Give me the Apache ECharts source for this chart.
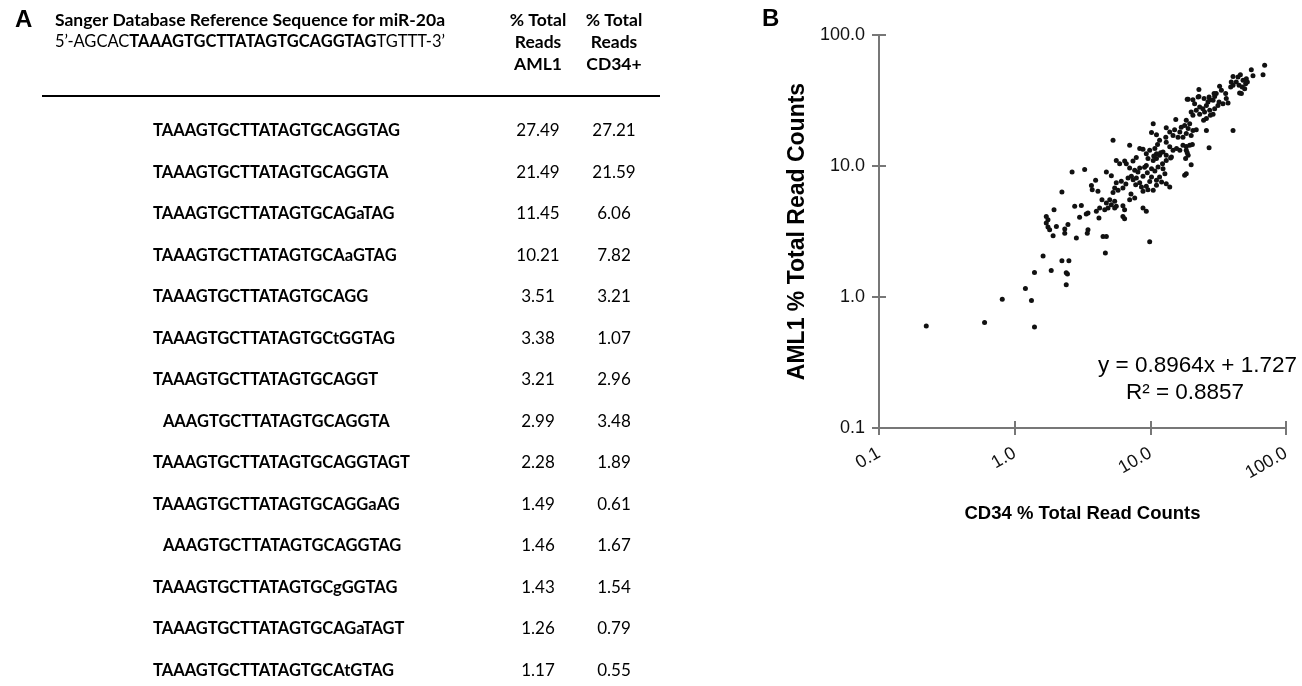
<!DOCTYPE html>
<html>
<head>
<meta charset="utf-8">
<title>miR-20a isomiRs</title>
<script src="https://cdn.jsdelivr.net/npm/echarts@6/dist/echarts.min.js"></script>
<style>
html, body { margin: 0; padding: 0; background: #fff; }
#main { width: 1302px; height: 686px; }
</style>
</head>
<body>
<div id="main"></div>
<script>
// panel A table
var sequences = [
    'TAAAGTGCTTATAGTGCAGGTAG',
    'TAAAGTGCTTATAGTGCAGGTA',
    'TAAAGTGCTTATAGTGCAGaTAG',
    'TAAAGTGCTTATAGTGCAaGTAG',
    'TAAAGTGCTTATAGTGCAGG',
    'TAAAGTGCTTATAGTGCtGGTAG',
    'TAAAGTGCTTATAGTGCAGGT',
    'AAAGTGCTTATAGTGCAGGTA',
    'TAAAGTGCTTATAGTGCAGGTAGT',
    'TAAAGTGCTTATAGTGCAGGaAG',
    'AAAGTGCTTATAGTGCAGGTAG',
    'TAAAGTGCTTATAGTGCgGGTAG',
    'TAAAGTGCTTATAGTGCAGaTAGT',
    'TAAAGTGCTTATAGTGCAtGTAG'
];
var aml1Reads = [27.49, 21.49, 11.45, 10.21, 3.51, 3.38, 3.21, 2.99, 2.28, 1.49, 1.46, 1.43, 1.26, 1.17];
var cd34Reads = [27.21, 21.59, 6.06, 7.82, 3.21, 1.07, 2.96, 3.48, 1.89, 0.61, 1.67, 1.54, 0.79, 0.55];

// panel B scatter, % of total read counts
var cd34Pct = [
    69.6, 67.7, 55.5, 57.1, 46.1, 44.3, 40.7, 39.5, 43.0, 48.2, 50.4, 49.6, 45.5, 46.9, 40.7, 51.0,
    32.4, 33.4, 30.6, 29.8, 35.9, 36.3, 37.4, 34.3, 32.1, 29.0, 27.4, 26.6, 25.9, 24.4, 23.1, 22.8,
    22.5, 20.6, 19.0, 21.2, 21.8, 20.0, 20.6, 23.1, 25.1, 27.4, 29.8, 27.7, 25.9, 24.7, 29.0, 31.5,
    40.7, 27.1, 25.9, 18.4, 19.5, 17.9, 16.9, 16.5, 15.1, 15.4, 13.1, 13.9, 13.0, 14.7, 16.0, 17.4,
    18.4, 20.0, 20.6, 19.0, 21.8, 10.5, 10.2, 11.1, 11.7, 13.1, 13.9, 14.7, 15.6, 16.5, 17.4, 18.4,
    19.5, 20.4, 18.4, 19.0, 18.2, 20.0, 17.9, 18.4, 8.35, 8.83, 9.34, 9.89, 10.8, 11.1, 11.7, 12.4,
    13.1, 14.3, 13.1, 12.3, 11.1, 10.5, 9.61, 10.2, 10.8, 11.4, 12.4, 12.8, 11.7, 11.1, 10.2, 12.1,
    13.1, 13.9, 11.1, 10.5, 5.31, 7.04, 5.61, 6.47, 9.34, 6.65, 7.45, 7.88, 5.94, 11.3, 11.9, 10.6,
    14.1, 18.7, 45.1, 51.9, 39.1, 29.5, 27.1, 24.9, 22.8, 18.7, 47.6,
    2.65, 3.28, 4.74, 5.16, 7.04, 7.67, 8.35, 9.07, 2.23, 3.95, 3.68, 3.73, 4.11, 5.61, 6.11, 5.46,
    5.31, 5.78, 6.28, 6.85, 7.25, 7.47, 7.89, 8.35, 8.83, 9.34, 9.60, 8.83, 4.40, 5.02, 5.46, 4.74,
    5.16, 5.61, 2.77, 3.10, 1.95, 3.37, 3.47, 4.00, 4.23, 4.61, 4.88, 5.46, 6.28, 6.46, 7.04, 7.67,
    8.83, 9.34, 3.01, 4.18, 6.28, 6.46, 1.71, 1.76, 1.71, 1.76, 1.81, 2.03, 2.34, 2.47, 3.47,
    8.1, 9.5, 7.8, 8.6, 9.9, 6.6, 7.2,
    1.92, 2.34, 2.85, 3.43, 4.48, 4.74, 4.66, 1.62, 2.23, 2.51, 1.40, 1.86, 2.40, 2.45, 2.40, 1.20,
    9.89, 0.223, 0.60, 0.81, 1.33, 1.40
];
var aml1Pct = [
    58.7, 49.8, 54.4, 48.9, 49.8, 47.8, 48.3, 43.8, 43.8, 45.1, 42.5, 38.9, 36.1, 35.7, 41.3, 46.4,
    40.6, 37.8, 35.7, 34.0, 35.7, 32.7, 30.3, 29.9, 30.8, 31.7, 32.1, 30.8, 29.0, 27.4, 28.2, 38.3,
    33.6, 32.1, 32.3, 29.9, 26.6, 25.8, 24.4, 24.8, 25.8, 26.6, 27.4, 24.4, 23.0, 22.3, 24.8, 29.0,
    18.7, 13.8, 18.7, 22.3, 21.0, 20.4, 19.8, 18.2, 18.9, 22.6, 19.6, 18.2, 16.6, 17.1, 16.6, 16.6,
    17.7, 17.1, 18.7, 19.3, 18.9, 21.0, 18.0, 17.3, 15.7, 15.2, 14.0, 13.2, 13.6, 13.2, 14.4, 14.1,
    14.4, 14.6, 13.2, 12.1, 11.4, 10.2, 8.49, 8.74, 13.6, 13.4, 12.4, 13.2, 13.6, 12.4, 12.1, 12.8,
    12.1, 11.7, 11.0, 10.4, 11.4, 11.0, 11.4, 9.54, 9.16, 9.83, 9.54, 8.74, 8.24, 7.78, 8.24, 7.55,
    7.33, 6.91, 7.12, 6.52, 15.7, 14.4, 11.0, 10.9, 10.1, 10.4, 10.9, 11.6, 10.4, 14.6, 12.6, 11.9,
    11.5, 12.6, 41.3, 43.8, 40.1, 35.7, 33.6, 32.7, 34.0, 32.3, 40.1,
    9.00, 9.39, 9.00, 8.44, 9.66, 9.27, 9.66, 9.77, 6.33, 7.79, 7.09, 6.60, 6.41, 7.44, 7.65, 6.80,
    6.28, 6.52, 6.80, 8.10, 8.34, 7.87, 8.10, 7.44, 8.34, 7.00, 6.60, 6.41, 5.53, 5.53, 5.37, 5.22,
    5.07, 4.92, 4.92, 5.00, 4.64, 4.31, 4.38, 4.51, 4.77, 4.64, 4.77, 4.77, 4.98, 4.64, 5.53, 5.70,
    4.77, 4.51, 4.07, 4.01, 4.12, 3.95, 4.12, 3.89, 3.67, 3.42, 3.26, 3.46, 3.30, 3.57, 3.26,
    9.0, 8.9, 7.2, 6.9, 7.6, 7.3, 6.1,
    2.94, 3.06, 2.82, 3.06, 2.90, 2.89, 2.17, 2.06, 1.89, 1.89, 1.54, 1.59, 1.53, 1.50, 1.24, 1.16,
    2.64, 0.60, 0.64, 0.96, 0.94, 0.59
];
var fitText = 'y = 0.8964x + 1.727';
var r2Text = 'R\u00b2 = 0.8857';

var points = [];
for (var i = 0; i < cd34Pct.length; i++) {
    points.push([cd34Pct[i], aml1Pct[i]]);
}

var tableFont = 'Lato, "Open Sans", sans-serif';
var plotFont = '"Liberation Sans", Arial, sans-serif';
var rowTop = 131, rowStep = 41.5;
var seqX = 153, amlX = 538, cdX = 614;
var rowSize = 16.5, headSize = 17.5;

// sequences missing the leading T are shifted by one letter
var ctx = document.createElement('canvas').getContext('2d');
ctx.font = 'bold ' + rowSize + 'px Lato';
var tShift = ctx.measureText('T').width;

function txt(s, x, y, size, weight, align, family) {
    return {
        type: 'text',
        silent: true,
        style: {
            text: s, x: x, y: y,
            fontSize: size, fontWeight: weight || 'normal',
            fontFamily: family || tableFont,
            fill: '#000', align: align || 'left', verticalAlign: 'middle'
        }
    };
}

var graphics = [];
graphics.push(txt('A', 15, 20, 24, 'bold', 'left', plotFont));
graphics.push(txt('Sanger Database Reference Sequence for miR-20a', 55, 20, headSize, 'bold'));
graphics.push({
    type: 'text',
    silent: true,
    style: {
        text: '5\u2019-AGCAC{b|TAAAGTGCTTATAGTGCAGGTAG}TGTTT-3\u2019',
        x: 55, y: 42, fontSize: 16.5, fontFamily: tableFont, fill: '#000',
        verticalAlign: 'middle',
        rich: { b: { fontWeight: 'bold', fontSize: 16.5, fontFamily: tableFont } }
    }
});
graphics.push(txt('% Total', amlX, 20, headSize, 'bold', 'center'));
graphics.push(txt('Reads', amlX, 42, headSize, 'bold', 'center'));
graphics.push(txt('AML1', amlX, 64, headSize, 'bold', 'center'));
graphics.push(txt('% Total', cdX, 20, headSize, 'bold', 'center'));
graphics.push(txt('Reads', cdX, 42, headSize, 'bold', 'center'));
graphics.push(txt('CD34+', cdX, 64, headSize, 'bold', 'center'));
graphics.push({
    type: 'line',
    silent: true,
    shape: { x1: 42, y1: 96, x2: 660, y2: 96 },
    style: { stroke: '#000', lineWidth: 2 }
});
for (var r = 0; r < sequences.length; r++) {
    var y = rowTop + r * rowStep;
    var indent = sequences[r].charAt(0) === 'T' ? 0 : tShift;
    graphics.push(txt(sequences[r], seqX + indent, y, rowSize, 'bold'));
    graphics.push(txt(aml1Reads[r].toFixed(2), amlX, y, 17, 'normal', 'center'));
    graphics.push(txt(cd34Reads[r].toFixed(2), cdX, y, 17, 'normal', 'center'));
}

// panel B labels
graphics.push(txt('B', 762, 19, 24, 'bold', 'left', plotFont));
graphics.push(txt(fitText, 1297, 366, 22.5, 'normal', 'right', plotFont));
graphics.push(txt(r2Text, 1185, 393, 22.5, 'normal', 'center', plotFont));

var axisGray = '#777';
function logAxis(extra) {
    var a = {
        type: 'log',
        logBase: 10,
        min: 0.1,
        max: 100,
        splitLine: { show: false },
        minorTick: { show: false },
        axisLine: { lineStyle: { color: axisGray, width: 2 } },
        axisTick: { length: 7, lineStyle: { color: axisGray, width: 2 } }
    };
    for (var k in extra) a[k] = extra[k];
    return a;
}
function fmt(v) {
    return v.toFixed(1);
}

var option = {
    animation: false,
    grid: { left: 879, right: 16, top: 35, bottom: 258 },
    xAxis: [
        logAxis({
            position: 'bottom',
            name: 'CD34 % Total Read Counts',
            nameLocation: 'middle',
            nameGap: 76,
            nameTextStyle: { fontFamily: plotFont, fontWeight: 'bold', fontSize: 18.5, color: '#000' },
            axisLabel: { rotate: 30, margin: 24, formatter: fmt, fontFamily: plotFont, fontSize: 18, color: '#111' }
        }),
        logAxis({
            position: 'bottom',
            axisLine: { show: false },
            axisTick: { inside: true, length: 7, lineStyle: { color: axisGray, width: 2 } },
            axisLabel: { show: false }
        })
    ],
    yAxis: [
        logAxis({
            position: 'left',
            name: 'AML1 % Total Read Counts',
            nameLocation: 'middle',
            nameGap: 70,
            nameTextStyle: { fontFamily: plotFont, fontWeight: 'bold', fontSize: 23, color: '#000' },
            axisLabel: { margin: 14, formatter: fmt, fontFamily: plotFont, fontSize: 18, color: '#111' }
        }),
        logAxis({
            position: 'left',
            axisLine: { show: false },
            axisTick: { inside: true, length: 7, lineStyle: { color: axisGray, width: 2 } },
            axisLabel: { show: false }
        })
    ],
    series: [{
        type: 'scatter',
        xAxisIndex: 0,
        yAxisIndex: 0,
        symbolSize: 5,
        itemStyle: { color: '#111', opacity: 1 },
        data: points
    }],
    graphic: graphics
};

var chart = echarts.init(document.getElementById('main'));
chart.setOption(option);
</script>
</body>
</html>
